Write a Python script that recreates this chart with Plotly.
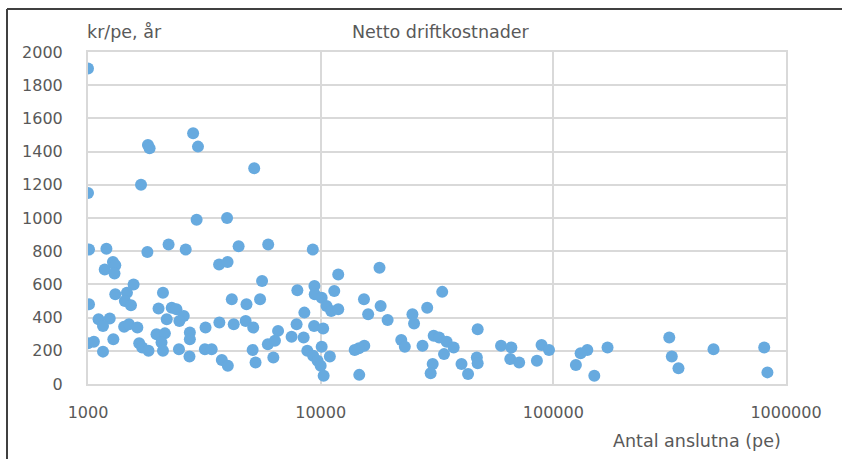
import plotly.graph_objects as go

# Antal anslutna (pe)
anslutna = [
    1000, 2830, 1810, 1840, 2970, 5180, 1690, 1000, 2930, 3960,
    1010, 1200, 1800, 2220, 2630, 4440, 5950, 9250,
    1180, 1280, 1310, 1300, 3660, 3980, 17900,
    1570, 5600, 11900, 9400, 7940, 11440, 2100, 33300,
    1310, 1470, 1440, 1530, 1010, 4150, 5490, 9430, 10100, 10600, 11100, 11900,
    15350, 4800, 18100, 28700,
    2010, 2290, 2400, 2580, 2180, 2470, 1110, 1240, 8510, 16000, 24800,
    1160, 1430, 1500, 1630, 1970, 2140, 2740, 3200, 3670, 4230, 4760, 5130,
    6560, 7880, 9370, 10250, 19400, 25200, 47300, 30600, 32300,
    1000, 1060, 1285, 2070, 2740, 5930, 6360, 7500, 8450, 1660, 1710,
    22200, 23000, 27400, 34800, 37300, 59600, 66000, 89000, 95800,
    140000, 131000, 171000, 315000, 488000, 806000, 10100, 15400, 14600,
    1160, 1820, 2100, 2460, 3180, 3400, 5100, 8760, 9280, 9700, 10000,
    14000, 2730, 3760, 3990, 5250, 6260, 10950, 33900, 46900,
    10300, 14650, 30300, 29700, 40300, 43000, 47300, 65300, 71300, 85000,
    125000, 150000, 323000, 345000, 832000,
]

# Netto driftkostnader, kr/pe och år
kostnad = [
    1900, 1510, 1440, 1420, 1430, 1300, 1200, 1150, 990, 1000,
    810, 815, 795, 840, 810, 830, 840, 810,
    690, 735, 715, 665, 720, 735, 700,
    600, 620, 660, 590, 565, 560, 550, 555,
    540, 550, 500, 475, 480, 510, 510, 540, 520, 470, 440, 450,
    510, 480, 470, 460,
    455, 460, 450, 410, 390, 380, 390, 395, 430, 420, 420,
    350, 345, 360, 340, 300, 305, 310, 340, 370, 360, 380, 340,
    320, 360, 350, 335, 385, 365, 330, 290, 280,
    245, 255, 270, 250, 270, 240, 260, 285, 280, 245, 220,
    265, 225, 230, 255, 220, 230, 220, 235, 205,
    205, 185, 220, 280, 210, 220, 225, 230, 215,
    195, 200, 200, 210, 210, 210, 205, 200, 170, 140, 110,
    205, 165, 145, 110, 130, 160, 165, 180, 160,
    50, 55, 120, 65, 120, 60, 125, 150, 130, 140,
    115, 50, 165, 95, 70,
]

x_ticks = [1000, 10000, 100000, 1000000]
x_tick_labels = ["1000", "10000", "100000", "1000000"]

FONT = "DejaVu Sans"
GRID = "#D9D9D9"
TXT = "#595959"

W, H = 842, 459
ML, MR, MT, MB = 88, 56, 52, 75

fig = go.Figure()
fig.add_trace(go.Scatter(
    x=anslutna, y=kostnad, mode="markers",
    marker=dict(size=12, color="#67AADF", line=dict(width=0)),
    hoverinfo="x+y", showlegend=False,
))

fig.update_layout(
    width=W, height=H,
    margin=dict(l=ML, r=MR, t=MT, b=MB),
    paper_bgcolor="white", plot_bgcolor="white",
    font=dict(family=FONT, size=16, color=TXT),
    xaxis=dict(
        type="log", range=[3, 6],
        tickvals=x_ticks, ticktext=x_tick_labels,
        showgrid=True, gridcolor=GRID, gridwidth=2,
        showline=True, linecolor=GRID, linewidth=2, mirror=True,
        zeroline=False, ticks="", ticklabelstandoff=13,
        tickfont=dict(size=16, color=TXT),
    ),
    yaxis=dict(
        range=[0, 2000], dtick=200,
        showgrid=True, gridcolor=GRID, gridwidth=2,
        showline=True, linecolor=GRID, linewidth=2, mirror=True,
        zeroline=False, ticks="", ticklabelstandoff=20,
        tickfont=dict(size=16, color=TXT),
    ),
)

pw = W - ML - MR
ph = H - MT - MB
def px2paper(px, py):
    return (px - ML) / pw, (H - MB - py) / ph

tx, ty = px2paper(441, 32)
kx, ky = px2paper(85, 32)
ax, ay = px2paper(783, 441)
fig.add_annotation(text="Netto driftkostnader", x=tx, y=ty, xref="paper", yref="paper",
                   xanchor="center", yanchor="middle", showarrow=False,
                   font=dict(size=17.5, color=TXT))
fig.add_annotation(text="kr/pe, år", x=kx, y=ky, xref="paper", yref="paper",
                   xanchor="left", yanchor="middle", showarrow=False,
                   font=dict(size=17.5, color=TXT))
fig.add_annotation(text="Antal anslutna (pe)", x=ax, y=ay, xref="paper", yref="paper",
                   xanchor="right", yanchor="middle", showarrow=False,
                   font=dict(size=17.5, color=TXT))

# outer chart frame (left and top edges visible in the crop)
lx, _ = px2paper(7, 0)
_, top = px2paper(0, 9)
_, bot = px2paper(0, 470)
rx, _ = px2paper(850, 0)
fig.add_shape(type="line", xref="paper", yref="paper", x0=lx, x1=lx, y0=bot, y1=top,
              line=dict(color="#404040", width=2))
fig.add_shape(type="line", xref="paper", yref="paper", x0=lx, x1=rx, y0=top, y1=top,
              line=dict(color="#404040", width=2))

fig.write_html("out.html", config={"displayModeBar": False},
               post_script="document.body.style.margin='0';document.body.style.overflow='hidden';")
